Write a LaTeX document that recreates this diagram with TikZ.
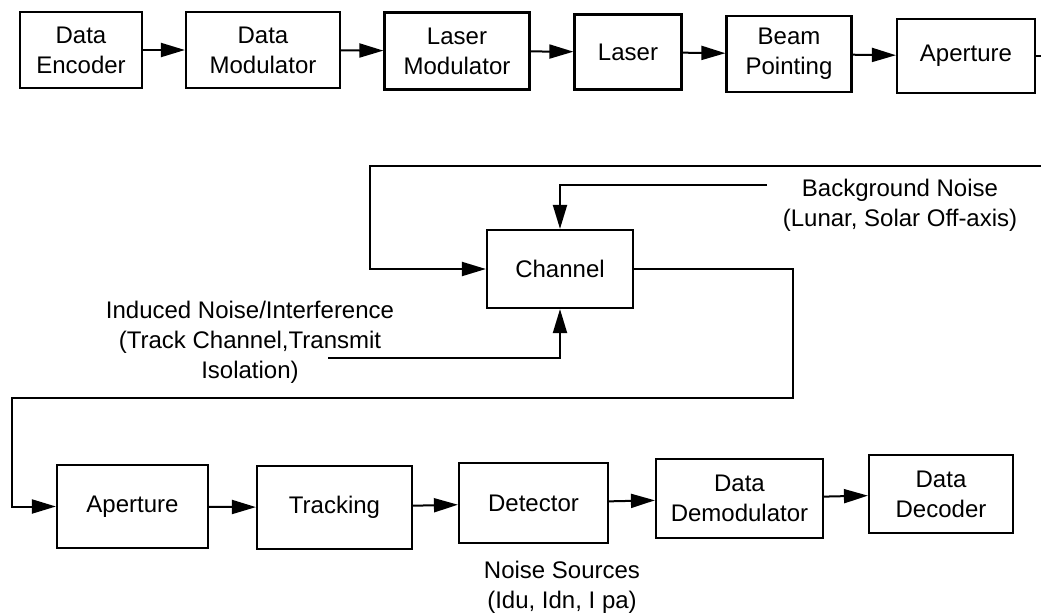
\documentclass[tikz,border=0pt]{standalone}
\usepackage{fontspec}
\setmainfont{Liberation Sans}
\usetikzlibrary{arrows.meta}
\tikzset{
  blk/.style 2 args={draw, line width=1.1pt, align=center, inner sep=0pt,
    minimum width=#1, minimum height=#2},
  lbl/.style={align=center, inner sep=0pt},
}
\begin{document}
\begin{tikzpicture}[x=0.5pt, y=-0.5pt, >={Triangle[length=12pt,width=7pt]},
  line width=1pt, font=\fontsize{12}{15}\selectfont]
\useasboundingbox (0,0) rectangle (1041,616);
% transmitter
\node[blk={61pt}{38pt}] (encoder) at (81,50) {Data\\Encoder};
\node[blk={77pt}{38pt}] (datamod) at (263,50) {Data\\Modulator};
\node[blk={72.5pt}{38.5pt}] (lasermod) at (457,51) {Laser\\Modulator};
\node[blk={53.5pt}{37.5pt}] (laser) at (628,52) {Laser};
\node[blk={62.5pt}{38pt}] (beam) at (789,54) {Beam\\Pointing};
\node[blk={69pt}{37pt}] (txaperture) at (966,56) {Aperture};
\coordinate (txout) at (1041,56);
\draw[->] (encoder) -- (datamod);
\draw[->] (datamod) -- (lasermod);
\draw[->] (lasermod) -- (laser);
\draw[->] (laser) -- (beam);
\draw[->] (beam) -- (txaperture);
\draw (txaperture) -- (txout);
% channel
\node[blk={73pt}{39pt}] (channel) at (560,269) {Channel};
\coordinate (chin) at (1041,166);
\coordinate (bgend) at (767,185);
\coordinate (indend) at (328,358);
\node[lbl] (bgnoise) at (900,205) {Background Noise\\(Lunar, Solar Off-axis)};
\node[lbl] (indnoise) at (250,342) {Induced Noise/Interference\\(Track Channel,Transmit\\Isolation)};
\draw[->] (chin) -- (370,166) |- (channel.west);
\draw[->] (bgend) -| (channel.north);
\draw[->] (indend) -| (channel.south);
% receiver
\node[blk={75.5pt}{41.5pt}] (rxaperture) at (132.5,506.5) {Aperture};
\node[blk={77.5pt}{41.5pt}] (tracking) at (334.5,507.5) {Tracking};
\node[blk={74.5pt}{40pt}] (detector) at (533.5,503) {Detector};
\node[blk={83.5pt}{39.5pt}] (demod) at (739.5,498.5) {Data\\Demodulator};
\node[blk={72pt}{39pt}] (decoder) at (941,494) {Data\\Decoder};
\node[lbl] (noisesrc) at (562,587) {Noise Sources\\(Idu, Idn, I pa)};
\draw[->] (channel.east) -- (793,269) -- (793,398) -- (12,398) |- (rxaperture.west);
\draw[->] (rxaperture) -- (tracking);
\draw[->] (tracking) -- (detector);
\draw[->] (detector) -- (demod);
\draw[->] (demod) -- (decoder);
\end{tikzpicture}
\end{document}
